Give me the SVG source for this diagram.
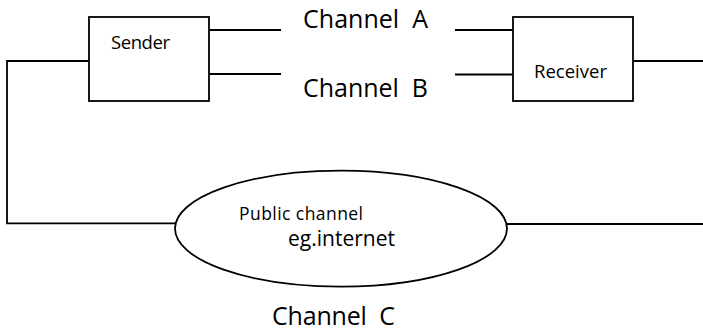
<svg xmlns="http://www.w3.org/2000/svg" width="703" height="334" viewBox="0 0 703 334">
<style>
.shape{fill:#fff;stroke:#000;stroke-width:1.8}
.wire{fill:none;stroke:#000;stroke-width:1.8}
text{font-family:"Open Sans","Noto Sans","Liberation Sans",sans-serif;fill:#000;white-space:pre}
.big{font-size:25px}
.small{font-size:18.5px}
</style>
<rect width="703" height="334" fill="#fff"/>
<g id="connectors">
<path class="wire" d="M209 30H281"/>
<path class="wire" d="M209 74H281"/>
<path class="wire" d="M455 30H513"/>
<path class="wire" d="M455 74.5H513"/>
<path class="wire" d="M89 61H7V223.3H176"/>
<path class="wire" d="M633 61H703"/>
<path class="wire" d="M506 224H703"/>
</g>
<g id="sender">
<rect class="shape" x="89" y="17" width="120" height="84"/>
<text class="small" x="111" y="49" textLength="59">Sender</text>
</g>
<g id="receiver">
<rect class="shape" x="513" y="17" width="120" height="84"/>
<text class="small" x="534" y="78" textLength="73">Receiver</text>
</g>
<g id="public-channel">
<ellipse class="shape" cx="341" cy="228.6" rx="166" ry="58"/>
<text x="239" y="220" font-size="17.5" textLength="124">Public channel</text>
<text x="288" y="246" font-size="21" textLength="107">eg.internet</text>
</g>
<g id="labels">
<text class="big" x="303" y="28" textLength="125">Channel  A</text>
<text class="big" x="303" y="97" textLength="125">Channel  B</text>
<text class="big" x="272" y="325" textLength="123">Channel  C</text>
</g>
</svg>
